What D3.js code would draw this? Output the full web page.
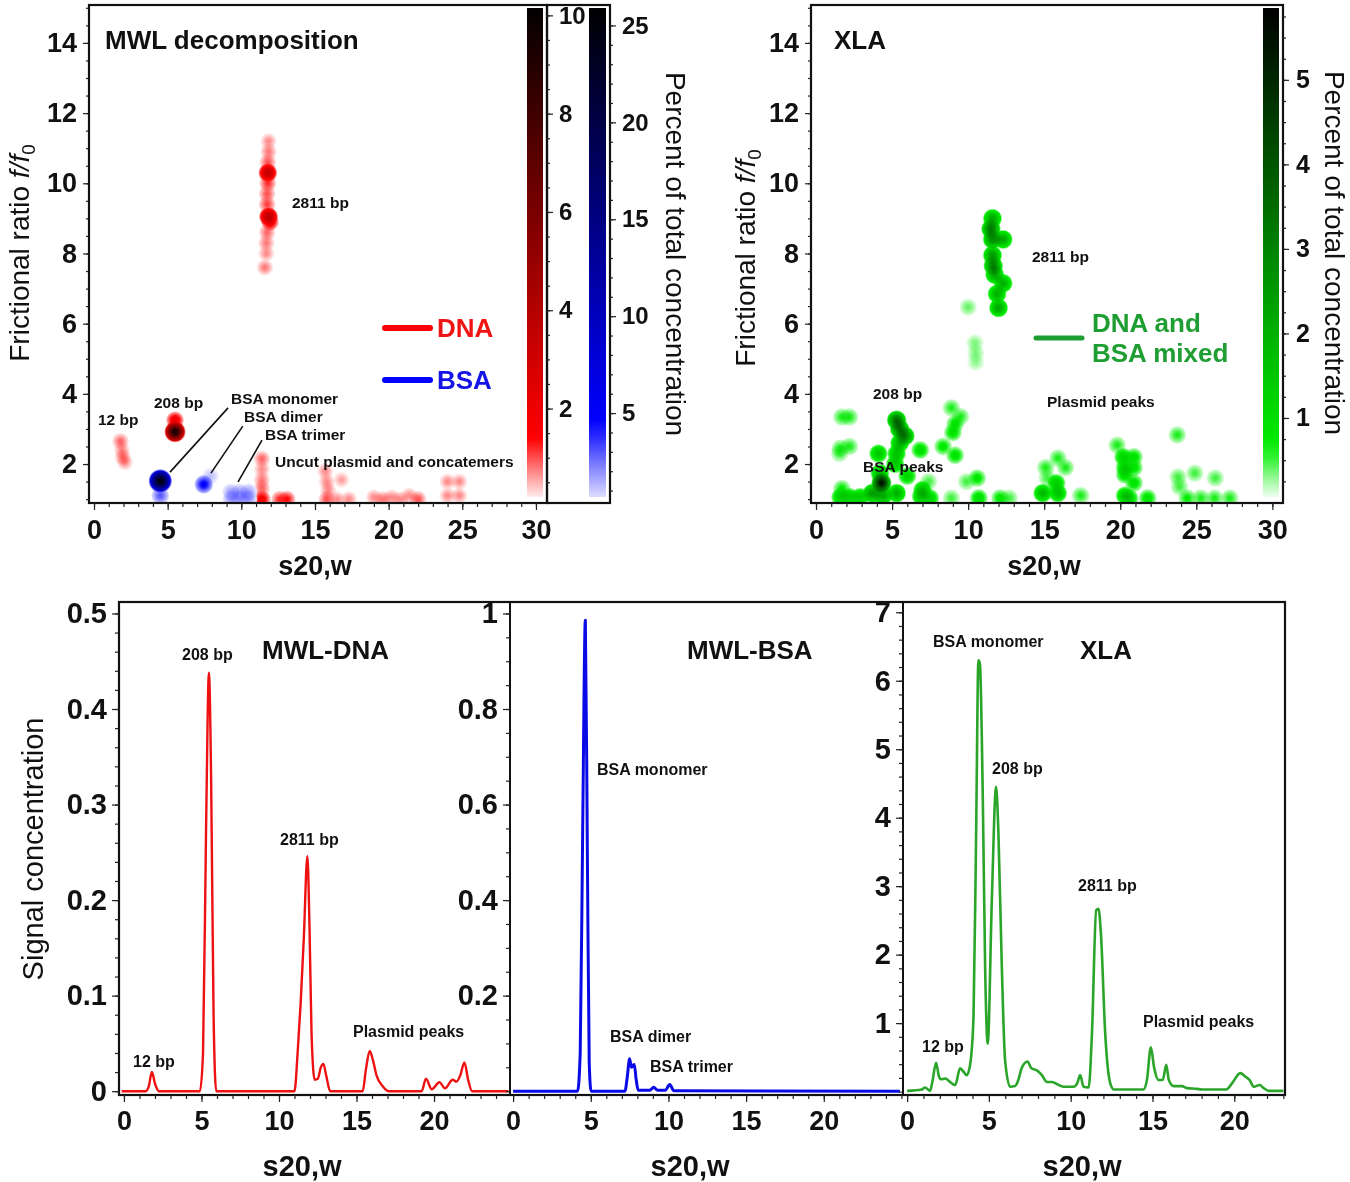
<!DOCTYPE html>
<html><head><meta charset="utf-8">
<script src="https://cdn.jsdelivr.net/npm/d3@7"></script>
<style>body{margin:0;background:#fff}svg{display:block}</style>
</head><body>
<svg id="c" width="1350" height="1182"></svg>
<script>
// ---------- DATA ----------
const sTicksTop = [0,5,10,15,20,25,30];
const fTicks = [2,4,6,8,10,12,14];
const dnaCbTicks = [2,4,6,8,10];
const bsaCbTicks = [5,10,15,20,25];
const xlaCbTicks = [1,2,3,4,5];
const sTicksBottom = [0,5,10,15,20];
const sigDnaTicks = [0,0.1,0.2,0.3,0.4,0.5];
const sigBsaTicks = [0.2,0.4,0.6,0.8,1];
const sigXlaTicks = [1,2,3,4,5,6,7];

// 2D spots: [s20,w, f/f0, percent of total concentration]
const dnaSpots = [
 [11.85,11.2,0.7],[11.85,10.9,0.8],[11.8,10.6,1.0],[11.8,10.3,3.5],[11.8,10.0,1.2],[11.75,9.7,1.0],
 [11.75,9.4,1.1],[11.85,9.05,3.8],[11.95,8.9,2.0],[11.75,8.6,0.9],[11.7,8.3,0.8],[11.7,8.0,0.7],[11.6,7.6,0.8],
 [5.5,3.25,2.0],[5.5,2.92,9.5],
 [1.8,2.65,0.9],[1.9,2.4,0.7],[1.95,2.2,0.8],[2.1,2.05,0.7],
 [11.4,2.15,0.9],[11.4,1.85,0.7],[11.4,1.55,0.8],[11.4,1.3,0.9],[11.4,1.0,1.8],[12.6,1.0,1.2],[13.1,1.0,1.4],
 [15.7,1.8,0.7],[15.8,1.5,0.7],[15.9,1.25,0.7],[15.8,1.0,1.0],[16.8,1.55,0.6],[16.5,1.0,0.7],[17.3,1.0,0.7],
 [19.0,1.05,0.7],[19.6,1.0,0.8],[20.2,1.05,0.7],[20.8,1.0,0.7],[21.4,1.1,0.7],[22.0,1.0,1.0],
 [24.0,1.5,0.7],[24.8,1.5,0.7],[24.0,1.1,0.7],[24.8,1.1,0.7]
];
const bsaSpots = [
 [4.5,1.52,25],[4.5,1.1,3],[7.45,1.42,5],[7.9,1.65,1.2],
 [9.3,1.2,1.8],[9.9,1.2,1.8],[10.5,1.2,1.8],[9.3,1.0,1.8],[9.9,1.0,1.8],[10.5,1.0,1.8]
];
const xlaSpots = [
 [11.6,9.0,2.2],[11.5,8.7,3.2],[11.6,8.4,2.8],[12.3,8.4,2.2],[11.6,7.95,2.5],[11.65,7.65,3.0],[11.75,7.4,2.2],
 [12.3,7.15,2.0],[11.9,6.85,2.0],[12.0,6.45,2.2],
 [10.0,6.47,0.4],[10.45,5.45,0.35],[10.5,5.16,0.35],[10.5,4.9,0.3],
 [5.3,3.25,3.5],[5.5,3.0,3.2],[5.85,2.8,3.0],[5.5,2.6,2.0],[5.3,2.3,1.6],[5.2,2.0,1.5],
 [4.3,1.46,5.5],[4.1,2.3,1.5],[4.2,1.74,1.8],[3.7,1.17,2.5],[4.4,1.1,2.2],[5.3,1.17,2.0],[2.9,1.06,1.4],
 [1.6,1.06,1.3],[2.2,1.06,1.3],[1.7,1.3,0.7],
 [1.7,3.34,0.6],[2.2,3.34,0.6],[1.6,2.45,0.6],[2.2,2.5,0.6],[1.55,2.3,0.5],
 [8.9,3.6,0.6],[9.5,3.35,0.6],[9.15,3.15,0.8],[9.0,2.9,0.9],[8.35,2.5,0.8],[9.15,2.25,0.9],[6.85,2.4,1.0],
 [6.0,1.66,1.2],[7.0,1.26,1.6],[6.9,1.08,1.5],[7.5,1.03,1.2],[7.4,1.5,0.5],
 [9.9,1.5,0.5],[10.6,1.6,0.8],[10.7,1.03,1.0],[8.9,1.03,0.5],[12.1,1.03,0.8],[12.7,1.03,0.5],
 [14.9,1.17,1.8],[15.9,1.17,1.6],[15.8,1.46,1.3],[15.1,1.9,0.6],[15.9,2.17,0.6],[16.4,1.9,0.6],[15.2,1.6,0.5],[17.4,1.1,0.6],
 [19.8,2.54,0.6],[20.2,2.2,1.2],[20.9,2.2,0.9],[20.3,1.9,1.2],[20.9,1.9,0.9],[20.3,1.7,1.0],[20.9,1.46,0.9],
 [20.3,1.1,1.4],[20.6,1.03,1.2],[21.8,1.03,0.9],
 [23.75,2.83,0.6],[23.8,1.63,0.5],[24.9,1.74,0.5],[26.25,1.6,0.5],[23.9,1.35,0.5],[24.4,1.03,0.7],
 [25.3,1.03,0.6],[26.2,1.03,0.6],[27.2,1.03,0.6]
];

// 1D distributions: [s20,w, signal concentration]
const dnaCurve = [[-0.15,0],[1.4,0],[1.6,0.005],[1.8,0.02],[2.0,0.008],[2.25,0],[4.9,0],[5.1,0.04],[5.3,0.28],
 [5.48,0.438],[5.62,0.33],[5.78,0.08],[5.95,0],[11.0,0],[11.2,0.04],[11.4,0.093],[11.6,0.16],[11.83,0.246],
 [11.97,0.17],[12.1,0.06],[12.3,0.012],[12.5,0.013],[12.7,0.025],[12.86,0.0286],[13.05,0.016],[13.3,0],
 [15.4,0],[15.6,0.022],[15.85,0.042],[16.05,0.033],[16.3,0.016],[16.7,0.005],[17.1,0],[19.2,0],[19.48,0.013],
 [19.85,0.002],[20.35,0.0094],[20.7,0.003],[21.2,0.012],[21.45,0.010],[21.7,0.017],[21.96,0.030],[22.2,0.012],
 [22.45,0],[24.8,0]];
const bsaCurve = [[0,0],[4.15,0],[4.32,0.08],[4.48,0.55],[4.65,0.986],[4.78,0.5],[4.9,0.06],[5.02,0],[7.2,0],
 [7.35,0.03],[7.5,0.068],[7.62,0.05],[7.7,0.053],[7.8,0.056],[7.92,0.025],[8.05,0.002],[8.8,0.002],[9.05,0.008],
 [9.3,0.002],[9.8,0.002],[10.08,0.014],[10.35,0.001],[24.9,0]];
const xlaCurve = [[0,0.01],[0.9,0.03],[1.1,0.06],[1.4,0.01],[1.55,0.15],[1.77,0.42],[1.95,0.22],[2.06,0.18],
 [2.33,0.19],[2.63,0.14],[2.94,0.095],[3.24,0.34],[3.45,0.29],[3.65,0.24],[3.85,0.39],[4.06,1.09],[4.22,3.77],
 [4.36,6.3],[4.45,6.25],[4.63,4.26],[4.77,1.82],[4.93,0.70],[5.18,2.8],[5.44,4.45],[5.58,3.8],[5.79,1.82],
 [5.99,0.46],[6.3,0.07],[6.6,0.08],[6.8,0.17],[7.0,0.34],[7.36,0.44],[7.6,0.34],[7.93,0.31],[8.24,0.24],
 [8.54,0.14],[8.85,0.14],[9.15,0.11],[9.56,0.07],[10.17,0.07],[10.4,0.12],[10.58,0.24],[10.79,0.07],[11.1,0.06],
 [11.3,0.85],[11.56,2.65],[11.7,2.67],[11.85,2.3],[12.11,0.85],[12.42,0.12],[12.65,0.03],[14.44,0.03],
 [14.66,0.17],[14.9,0.645],[15.1,0.35],[15.37,0.17],[15.63,0.17],[15.84,0.39],[16.0,0.17],[16.3,0.08],
 [16.8,0.08],[17.1,0.05],[17.7,0.04],[18.0,0.03],[19.5,0.03],[19.86,0.12],[20.37,0.27],[20.67,0.22],
 [20.93,0.17],[21.2,0.07],[21.55,0.095],[21.8,0.05],[22.1,0.01],[23.0,0.01]];

// ---------- DRAWING ----------
const FONT = '"Liberation Sans", Arial, Helvetica, sans-serif';
const svg = d3.select("#c");
const defs = svg.append("defs");

const redColor = d3.scaleLinear().domain([0,0.2,1.4,10.2]).range(["#ffffff","#ffecec","#ff0000","#000000"]).clamp(true);
const blueColor = d3.scaleLinear().domain([0,0.67,4.5,25.9]).range(["#ffffff","#dcdcff","#0000ff","#000000"]).clamp(true);
const greenColor = d3.scaleLinear().domain([0,0.065,0.65,5.85]).range(["#ffffff","#f0fff0","#00ee00","#000000"]).clamp(true);

function clip(id,x0,y0,x1,y1){
  defs.append("clipPath").attr("id",id).append("rect").attr("x",x0).attr("y",y0).attr("width",x1-x0).attr("height",y1-y0);
}
function addAxis(axisFn, scale, major, minor, len, minorLen, pad, size, fmt, tx, ty){
  const gm = svg.append("g").attr("transform",`translate(${tx},${ty})`);
  gm.call(axisFn(scale).tickValues(minor).tickSize(minorLen).tickFormat(""));
  const ga = svg.append("g").attr("transform",`translate(${tx},${ty})`);
  ga.call(axisFn(scale).tickValues(major).tickSize(len).tickPadding(pad).tickFormat(fmt || (d=>String(d))));
  [gm,ga].forEach(a=>{a.select(".domain").remove();a.selectAll("line").attr("stroke","#222").attr("stroke-width",1.2);});
  ga.selectAll("text").attr("font-family",FONT).attr("font-weight","bold").attr("font-size",size).attr("fill","#111");
}
function spots(pid, data, x, y, color, rFn, clipId){
  const g = svg.append("g").attr("clip-path",`url(#${clipId})`).style("isolation","isolate");
  const ds = data.map((d,i)=>({s:d[0],f:d[1],c:d[2],i})).sort((a,b)=>a.c-b.c);
  ds.forEach(d=>{
    const id = `${pid}${d.i}`;
    const gr = defs.append("radialGradient").attr("id",id);
    [0,0.17,0.33,0.5,0.67,0.83,1].forEach(t=>{
      gr.append("stop").attr("offset",t).attr("stop-color",color(d.c*Math.exp(-1.7*t*t))).attr("stop-opacity",t===1?0:1);
    });
    g.append("circle").attr("cx",x(d.s)).attr("cy",y(d.f)).attr("r",rFn(d.c))
      .attr("fill",`url(#${id})`).style("mix-blend-mode","multiply");
  });
}
function colorbar(id, x0, w, sc, color){
  const [d0,d1] = sc.domain();
  const gr = defs.append("linearGradient").attr("id",id).attr("x1",0).attr("y1",1).attr("x2",0).attr("y2",0);
  d3.range(0,1.0001,0.04).forEach(t=>gr.append("stop").attr("offset",t).attr("stop-color",color(d0+t*(d1-d0))));
  svg.append("rect").attr("x",x0).attr("y",sc.range()[1]).attr("width",w)
    .attr("height",sc.range()[0]-sc.range()[1]).attr("fill",`url(#${id})`);
}
function txt(x,y,s,size,opts={}){
  const t = svg.append("text").attr("x",x).attr("y",y).text(s).attr("font-family",FONT)
    .attr("font-size",size).attr("font-weight",opts.w||"bold").attr("fill",opts.fill||"#111")
    .attr("text-anchor",opts.anchor||"start");
  if(opts.rot!==undefined) t.attr("x",0).attr("y",0).attr("transform",`translate(${x},${y}) rotate(${opts.rot})`);
  return t;
}
function frictionLabel(x,y){
  const t = svg.append("text").attr("transform",`translate(${x},${y}) rotate(-90)`).attr("text-anchor","middle")
    .attr("font-family",FONT).attr("font-size",28).attr("fill","#111");
  t.append("tspan").text("Frictional ratio ");
  t.append("tspan").attr("font-style","italic").text("f/f");
  t.append("tspan").attr("font-size",19).attr("dy",6).text("0");
}
function frame(x0,y0,x1,y1,w){
  svg.append("rect").attr("x",x0).attr("y",y0).attr("width",x1-x0).attr("height",y1-y0)
    .attr("fill","none").attr("stroke","#111").attr("stroke-width",w||2);
}

// ===== Top-left: MWL decomposition =====
const xTL = d3.scaleLinear([-0.34,30.75],[89,547]);
const yTL = d3.scaleLinear([0.89,15.08],[503,5]);
clip("clipTL",89,5,547,503);
spots("dn",dnaSpots,xTL,yTL,redColor,c=>8+3*Math.sqrt(c/10),"clipTL");
spots("bs",bsaSpots,xTL,yTL,blueColor,c=>8+4*Math.sqrt(c/25),"clipTL");

const cbRed = d3.scaleLinear([0.2,10.15],[497,8]);
const cbBlue = d3.scaleLinear([0.67,25.9],[497,8]);
colorbar("gRed",527,16,cbRed,redColor);
colorbar("gBlue",589,17,cbBlue,blueColor);

// leader lines
[[9.1,3.6,5.16,1.77],[10.1,3.08,7.94,1.74],[11.4,2.68,9.78,1.49]].forEach(l=>{
  svg.append("line").attr("x1",xTL(l[0])).attr("y1",yTL(l[1])).attr("x2",xTL(l[2])).attr("y2",yTL(l[3]))
    .attr("stroke","#111").attr("stroke-width",1.6);
});
frame(89,5,547,503,2.2);
frame(547,5,610,503,2.2);
addAxis(d3.axisBottom,xTL,sTicksTop,d3.range(0,31,1),7,4,10,27,null,0,503);
addAxis(d3.axisLeft,yTL,fTicks,d3.range(1,15.01,0.5),6,3,6,27,null,89,0);
addAxis(d3.axisRight,cbRed,dnaCbTicks,d3.range(0.5,10.01,0.5),6,3,6,24,null,547,0);
addAxis(d3.axisRight,cbBlue,bsaCbTicks,d3.range(1,25.01,1),6,3,6,24,null,610,0);

txt(105,49,"MWL decomposition",26);
txt(292,208,"2811 bp",15.5);
txt(98,425,"12 bp",15.5);
txt(154,408,"208 bp",15.5);
txt(231,404,"BSA monomer",15.5);
txt(244,422,"BSA dimer",15.5);
txt(265,440,"BSA trimer",15.5);
txt(275,467,"Uncut plasmid and concatemers",15.5);
svg.append("line").attr("x1",385).attr("x2",430).attr("y1",328).attr("y2",328).attr("stroke","#ff0000").attr("stroke-width",6).attr("stroke-linecap","round");
svg.append("line").attr("x1",385).attr("x2",430).attr("y1",380).attr("y2",380).attr("stroke","#0000ff").attr("stroke-width",6).attr("stroke-linecap","round");
txt(437,337,"DNA",26,{fill:"#f01414"});
txt(437,389,"BSA",26,{fill:"#1414e6"});
frictionLabel(29,253);
txt(666,254,"Percent of total concentration",28,{w:"normal",anchor:"middle",rot:90});
txt(315,575,"s20,w",27,{anchor:"middle"});

// ===== Top-right: XLA =====
const xTR = d3.scaleLinear([-0.33,30.7],[811,1283]);
const yTR = d3.scaleLinear([0.89,15.08],[503,5]);
clip("clipTR",811,5,1283,503);
spots("xl",xlaSpots,xTR,yTR,greenColor,c=>9+1.5*Math.sqrt(c/5.5),"clipTR");
const cbGreen = d3.scaleLinear([0.065,5.85],[497,8]);
colorbar("gGreen",1263,16,cbGreen,greenColor);
frame(811,5,1283,503,2.2);
addAxis(d3.axisBottom,xTR,sTicksTop,d3.range(0,31,1),7,4,10,27,null,0,503);
addAxis(d3.axisLeft,yTR,fTicks,d3.range(1,15.01,0.5),6,3,6,27,null,811,0);
addAxis(d3.axisRight,cbGreen,xlaCbTicks,d3.range(0.25,5.76,0.25),6,3,7,25,null,1283,0);
txt(834,49,"XLA",26);
txt(1032,262,"2811 bp",15.5);
txt(873,399,"208 bp",15.5);
txt(1047,407,"Plasmid peaks",15.5);
txt(863,472,"BSA peaks",15.5);
svg.append("line").attr("x1",1036).attr("x2",1082).attr("y1",338).attr("y2",338).attr("stroke","#1e9e32").attr("stroke-width",5).attr("stroke-linecap","round");
txt(1092,332,"DNA and",26,{fill:"#1e9e32"});
txt(1092,362,"BSA mixed",26,{fill:"#1e9e32"});
frictionLabel(755,258);
txt(1325,253,"Percent of total concentration",28,{w:"normal",anchor:"middle",rot:90});
txt(1044,575,"s20,w",27,{anchor:"middle"});

// ===== Bottom panels =====
const panels = [
  {id:"bL",x0:119,x1:510,xd:[-0.32,24.9],yd:[-0.004,0.512],data:dnaCurve,color:"#ee1111",w:2.4,
   yt:sigDnaTicks,ym:d3.range(0,0.5001,0.02),lx:302},
  {id:"bM",x0:510,x1:903,xd:[-0.2,25.1],yd:[-0.008,1.024],data:bsaCurve,color:"#0a0ae6",w:3,
   yt:sigBsaTicks,ym:d3.range(0,1.0001,0.05),lx:690},
  {id:"bR",x0:903,x1:1285,xd:[-0.25,23.1],yd:[-0.05,7.15],data:xlaCurve,color:"#2aa52a",w:2.6,
   yt:sigXlaTicks,ym:d3.range(0,7.001,0.2),lx:1082}
];
panels.forEach(p=>{
  p.x = d3.scaleLinear(p.xd,[p.x0,p.x1]);
  p.y = d3.scaleLinear(p.yd,[1095,602]);
  clip("clip"+p.id,p.x0,602,p.x1,1095);
  svg.append("path").datum(p.data).attr("clip-path",`url(#clip${p.id})`)
    .attr("d",d3.line().x(d=>p.x(d[0])).y(d=>p.y(d[1])).curve(d3.curveMonotoneX))
    .attr("fill","none").attr("stroke",p.color).attr("stroke-width",p.w).attr("stroke-linejoin","round");
});
frame(119,602,1285,1095,2.2);
svg.append("line").attr("x1",510).attr("x2",510).attr("y1",602).attr("y2",1095).attr("stroke","#111").attr("stroke-width",2);
svg.append("line").attr("x1",903).attr("x2",903).attr("y1",602).attr("y2",1095).attr("stroke","#111").attr("stroke-width",2);
panels.forEach(p=>{
  addAxis(d3.axisBottom,p.x,sTicksBottom,d3.range(0,Math.floor(p.xd[1])+0.01,1),7,4,9,27,null,0,1095);
  addAxis(d3.axisLeft,p.y,p.yt,p.ym,7,4,5,29,null,p.x0,0);
  txt(p.lx,1176,"s20,w",29,{anchor:"middle"});
});
txt(43,849,"Signal concentration",29,{w:"normal",anchor:"middle",rot:-90});

txt(182,660,"208 bp",16);
txt(262,659,"MWL-DNA",26);
txt(280,845,"2811 bp",16);
txt(133,1067,"12 bp",16);
txt(353,1037,"Plasmid peaks",16);
txt(687,659,"MWL-BSA",26);
txt(597,775,"BSA monomer",16);
txt(610,1042,"BSA dimer",16);
txt(650,1072,"BSA trimer",16);
txt(1080,659,"XLA",26);
txt(933,647,"BSA monomer",16);
txt(992,774,"208 bp",16);
txt(1078,891,"2811 bp",16);
txt(922,1052,"12 bp",16);
txt(1143,1027,"Plasmid peaks",16);
</script>
</body></html>
